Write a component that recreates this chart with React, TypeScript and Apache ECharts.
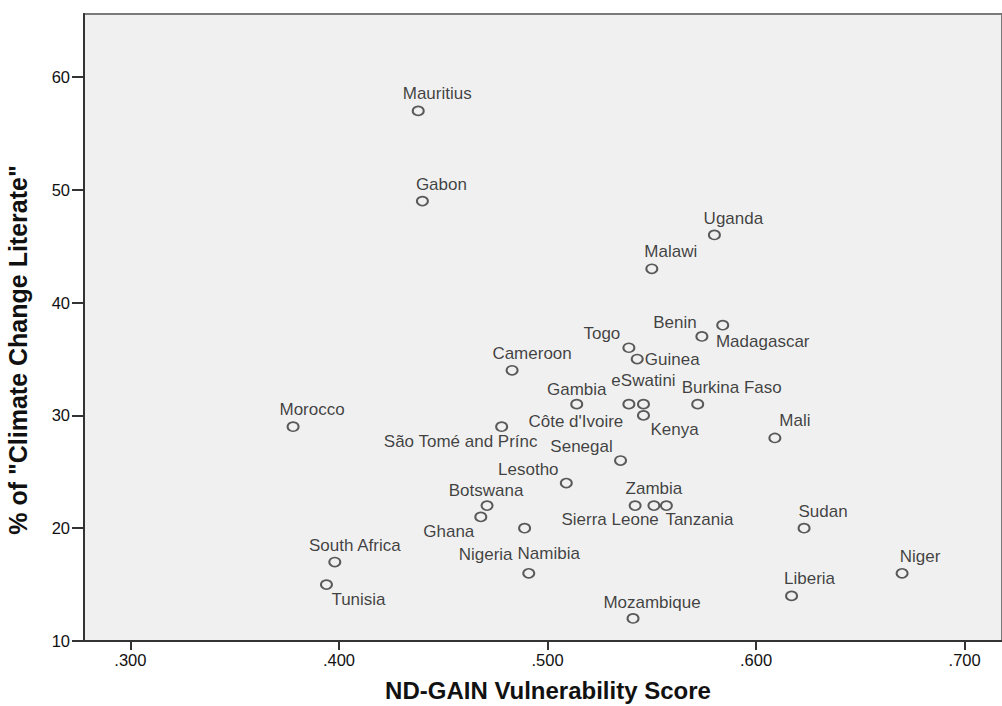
import React, { useEffect, useRef } from "react";
import * as echarts from "echarts";

const countries = [
  "Mauritius", "Gabon", "Uganda", "Malawi", "Benin", "Madagascar", "Togo", "Guinea",
  "Cameroon", "Gambia", "Côte d'Ivoire", "eSwatini", "Burkina Faso", "Kenya", "Morocco",
  "São Tomé and Prínc", "Mali", "Senegal", "Lesotho", "Botswana", "Ghana", "Nigeria",
  "Namibia", "Sierra Leone", "Zambia", "Tanzania", "Sudan", "South Africa", "Tunisia",
  "Niger", "Liberia", "Mozambique",
];
const vulnerability = [
  0.438, 0.44, 0.58, 0.55, 0.574, 0.584, 0.539, 0.543,
  0.483, 0.514, 0.539, 0.546, 0.572, 0.546, 0.378,
  0.478, 0.609, 0.535, 0.509, 0.471, 0.468, 0.489,
  0.491, 0.542, 0.551, 0.557, 0.623, 0.398, 0.394,
  0.67, 0.617, 0.541,
];
const literate = [
  57, 49, 46, 43, 37, 38, 36, 35,
  34, 31, 31, 31, 31, 30, 29,
  29, 28, 26, 24, 22, 21, 20,
  16, 22, 22, 22, 20, 17, 15,
  16, 14, 12,
];
const xTicks = [0.3, 0.4, 0.5, 0.6, 0.7];
const yTicks = [10, 20, 30, 40, 50, 60];

// label placement relative to each marker (layout only)
const labelOffsets: Record<string, [number, number]> = {
  "Mauritius": [19, -17], "Gabon": [19, -17], "Uganda": [19, -16], "Malawi": [19, -17],
  "Benin": [-27, -14], "Madagascar": [40, 16], "Togo": [-27, -14], "Guinea": [35, 0],
  "Cameroon": [20, -17], "Gambia": [0, -15], "Côte d'Ivoire": [-53, 17], "eSwatini": [0, -24],
  "Burkina Faso": [34, -17], "Kenya": [31, 14], "Morocco": [19, -17],
  "São Tomé and Prínc": [-41, 15], "Mali": [20, -17], "Senegal": [-39, -14],
  "Lesotho": [-38, -14], "Botswana": [-1, -15], "Ghana": [-32, 15], "Nigeria": [-39, 26],
  "Namibia": [20, -20], "Sierra Leone": [-25, 14], "Zambia": [0, -17], "Tanzania": [33, 14],
  "Sudan": [19, -17], "South Africa": [20, -17], "Tunisia": [32, 15], "Niger": [18, -17],
  "Liberia": [18, -17], "Mozambique": [19, -16],
};

const FONT = "'Liberation Sans', Arial, sans-serif";

export default function App() {
  const ref = useRef<HTMLDivElement>(null);
  useEffect(() => {
    document.body.style.margin = "0";
    if (!ref.current) return;
    const chart = echarts.init(ref.current, undefined, { renderer: "svg" });
    const data = countries.map((c, i) => ({
      name: c,
      value: [vulnerability[i], literate[i]],
      label: { offset: labelOffsets[c] || [0, -16] },
    }));
    chart.setOption({
      animation: false,
      backgroundColor: "#ffffff",
      grid: {
        left: 84,
        top: 14,
        right: -2,
        bottom: 65,
        show: true,
        backgroundColor: "#f0f0f0",
        borderColor: "#7a7a7a",
        borderWidth: 2,
      },
      xAxis: {
        type: "value",
        min: 0.27775,
        max: 0.7179,
        splitLine: { show: false },
        axisLine: { show: true, onZero: false, lineStyle: { color: "#333", width: 2 } },
        axisTick: { show: true, length: 9, lineStyle: { color: "#333", width: 2 }, customValues: xTicks },
        axisLabel: {
          customValues: xTicks,
          margin: 10,
          color: "#111",
          fontSize: 16.5,
          fontFamily: FONT,
          formatter: (v: number) => v.toFixed(3).replace(/^0/, ""),
        },
      },
      yAxis: {
        type: "value",
        min: 10,
        max: 65.59,
        splitLine: { show: false },
        axisLine: { show: true, onZero: false, lineStyle: { color: "#333", width: 2 } },
        axisTick: { show: true, length: 12, lineStyle: { color: "#333", width: 2 }, customValues: yTicks },
        axisLabel: {
          customValues: yTicks,
          margin: 14,
          color: "#111",
          fontSize: 16.5,
          fontFamily: FONT,
        },
      },
      graphic: [
        {
          type: "text",
          x: 548,
          y: 690,
          style: {
            text: "ND-GAIN Vulnerability Score",
            fontSize: 24,
            fontWeight: "bold",
            fontFamily: FONT,
            fill: "#111",
            align: "center",
            verticalAlign: "middle",
          },
        },
        {
          type: "text",
          x: 18,
          y: 350,
          rotation: Math.PI / 2,
          style: {
            text: '% of "Climate Change Literate"',
            fontSize: 25,
            fontWeight: "bold",
            fontFamily: FONT,
            fill: "#111",
            align: "center",
            verticalAlign: "middle",
          },
        },
      ],
      series: [
        {
          type: "scatter",
          data,
          symbol: "circle",
          symbolSize: [11, 9],
          itemStyle: { color: "rgba(0,0,0,0)", borderColor: "#333", borderWidth: 1.8 },
          label: {
            show: true,
            position: "inside",
            formatter: "{b}",
            color: "#111",
            fontSize: 17,
            fontFamily: FONT,
          },
          emphasis: { disabled: true },
        },
      ],
    });
    return () => chart.dispose();
  }, []);
  return <div ref={ref} style={{ width: 1002, height: 706 }} />;
}
